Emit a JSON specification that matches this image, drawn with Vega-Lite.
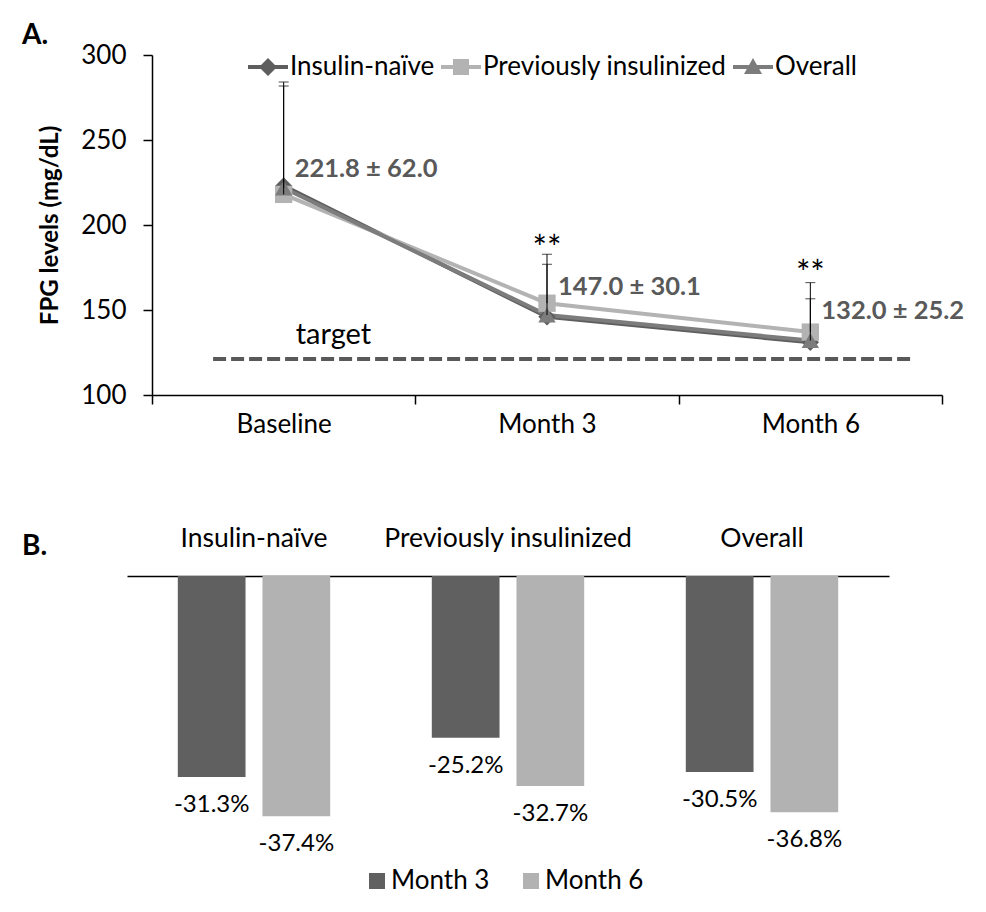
{
  "$schema": "https://vega.github.io/schema/vega-lite/v6.json",
  "background": "white",
  "padding": {"left": 22, "top": 22, "right": 0, "bottom": 0},
  "config": {
    "font": "Lato",
    "view": {"stroke": null},
    "axis": {"domainColor": "black", "tickColor": "black", "labelColor": "black", "titleColor": "black", "grid": false, "labelLimit": 0}
  },
  "datasets": {
    "fpg": [
      {"series": "Insulin-naïve", "time": "Baseline", "value": 223},
      {"series": "Insulin-naïve", "time": "Month 3", "value": 146},
      {"series": "Insulin-naïve", "time": "Month 6", "value": 131},
      {"series": "Previously insulinized", "time": "Baseline", "value": 218},
      {"series": "Previously insulinized", "time": "Month 3", "value": 154},
      {"series": "Previously insulinized", "time": "Month 6", "value": 137},
      {"series": "Overall", "time": "Baseline", "value": 221.8},
      {"series": "Overall", "time": "Month 3", "value": 147.0},
      {"series": "Overall", "time": "Month 6", "value": 132.0}
    ],
    "err": [
      {"series": "Previously insulinized", "time": "Baseline", "lo": 218, "hi": 284.1},
      {"series": "Overall", "time": "Baseline", "lo": 221.8, "hi": 281.8},
      {"series": "Previously insulinized", "time": "Month 3", "lo": 154, "hi": 182.8},
      {"series": "Overall", "time": "Month 3", "lo": 147.0, "hi": 176.9},
      {"series": "Previously insulinized", "time": "Month 6", "lo": 137, "hi": 166.1},
      {"series": "Overall", "time": "Month 6", "lo": 132.0, "hi": 156.6}
    ],
    "lab": [
      {"time": "Baseline", "y": 228.5, "text": "221.8 ± 62.0"},
      {"time": "Month 3", "y": 158.8, "text": "147.0 ± 30.1"},
      {"time": "Month 6", "y": 144.7, "text": "132.0 ± 25.2"}
    ],
    "ast": [
      {"time": "Month 3", "y": 179.4, "text": "**"},
      {"time": "Month 6", "y": 164.7, "text": "**"}
    ],
    "target": [
      {"x1": 0.232, "x2": 2.879, "y": 121.2, "tx": 0.689, "ty": 130, "label": "target"}
    ],
    "bars": [
      {"group": "Insulin-naïve", "period": "Month 3", "value": -31.3, "label": "-31.3%"},
      {"group": "Insulin-naïve", "period": "Month 6", "value": -37.4, "label": "-37.4%"},
      {"group": "Previously insulinized", "period": "Month 3", "value": -25.2, "label": "-25.2%"},
      {"group": "Previously insulinized", "period": "Month 6", "value": -32.7, "label": "-32.7%"},
      {"group": "Overall", "period": "Month 3", "value": -30.5, "label": "-30.5%"},
      {"group": "Overall", "period": "Month 6", "value": -36.8, "label": "-36.8%"}
    ]
  },
  "spacing": 88,
  "resolve": {
    "scale": {"color": "independent", "shape": "independent", "fill": "independent"},
    "legend": {"color": "independent", "shape": "independent", "fill": "independent"}
  },
  "vconcat": [
    {
      "width": 790,
      "height": 340,
      "title": {"text": "A.", "anchor": "start", "frame": "group", "dx": -130, "fontSize": 28, "fontWeight": "bold", "color": "black", "offset": -8},
      "layer": [
        {
          "layer": [
            {
              "data": {"name": "fpg"},
              "mark": {"type": "line", "strokeWidth": 4},
              "encoding": {
                "x": {"field": "time", "type": "nominal", "title": null, "scale": {"domain": ["Baseline", "Month 3", "Month 6"], "paddingInner": 0, "paddingOuter": 0},
                  "axis": {"tickBand": "extent", "tickSize": 9, "labelPadding": 7, "labelFontSize": 26, "labelAngle": 0, "domainWidth": 1.5, "tickWidth": 1.5}},
                "y": {"field": "value", "type": "quantitative", "title": "FPG levels (mg/dL)", "scale": {"domain": [100, 300], "nice": false},
                  "axis": {"values": [100, 150, 200, 250, 300], "tickSize": 9, "labelPadding": 17, "labelFontSize": 26, "titleFontSize": 24, "titleFontWeight": "bold", "titlePadding": 18, "domainWidth": 1.5, "tickWidth": 1.5}},
                "color": {"field": "series", "type": "nominal", "scale": {"domain": ["Insulin-naïve", "Previously insulinized", "Overall"], "range": ["#5e5e5e", "#b3b3b3", "#7c7c7c"]}, "legend": null}
              }
            },
            {
              "data": {"name": "fpg"},
              "mark": {"type": "point", "filled": true, "size": 300, "opacity": 1},
              "encoding": {
                "x": {"field": "time", "type": "nominal", "title": null},
                "y": {"field": "value", "type": "quantitative", "title": "FPG levels (mg/dL)"},
                "color": {"field": "series", "type": "nominal", "legend": null},
                "shape": {"field": "series", "type": "nominal", "scale": {"domain": ["Insulin-naïve", "Previously insulinized", "Overall"], "range": ["diamond", "square", "triangle-up"]}, "legend": null}
              }
            },
            {
              "data": {"name": "err"},
              "mark": {"type": "rule", "color": "black", "strokeWidth": 1},
              "encoding": {
                "x": {"field": "time", "type": "nominal", "title": null},
                "y": {"field": "lo", "type": "quantitative", "title": "FPG levels (mg/dL)"},
                "y2": {"field": "hi"}
              }
            },
            {
              "data": {"name": "err"},
              "mark": {"type": "tick", "color": "black", "thickness": 1, "size": 10},
              "encoding": {
                "x": {"field": "time", "type": "nominal", "title": null},
                "y": {"field": "hi", "type": "quantitative", "title": "FPG levels (mg/dL)"}
              }
            },
            {
              "data": {"name": "lab"},
              "mark": {"type": "text", "align": "left", "baseline": "alphabetic", "dx": 11, "fontSize": 25.5, "fontWeight": "bold", "fill": "#595959"},
              "encoding": {
                "x": {"field": "time", "type": "nominal", "title": null},
                "y": {"field": "y", "type": "quantitative", "title": "FPG levels (mg/dL)"},
                "text": {"field": "text"}
              }
            },
            {
              "data": {"name": "ast"},
              "mark": {"type": "text", "align": "center", "baseline": "alphabetic", "fontSize": 34, "fill": "black"},
              "encoding": {
                "x": {"field": "time", "type": "nominal", "title": null},
                "y": {"field": "y", "type": "quantitative", "title": "FPG levels (mg/dL)"},
                "text": {"field": "text"}
              }
            },
            {
              "data": {"name": "fpg"},
              "transform": [{"filter": "false"}],
              "mark": {"type": "point", "filled": true, "opacity": 1, "strokeWidth": 0},
              "encoding": {
                "shape": {"field": "series", "type": "nominal",
                  "scale": {"domain": ["Insulin-naïve", "Previously insulinized", "Overall"],
                    "range": ["M-1,-0.1H1V0.1H-1Z M0,-0.45L0.45,0L0,0.45L-0.45,0Z", "M-1,-0.1H1V0.1H-1Z M-0.4,-0.4H0.4V0.4H-0.4Z", "M-1,-0.1H1V0.1H-1Z M0,-0.45L0.45,0.35H-0.45Z"]},
                  "legend": {"orient": "none", "legendX": 96, "legendY": -8, "direction": "horizontal", "title": null, "labelFontSize": 26, "labelColor": "black", "labelLimit": 0, "symbolSize": 1600, "columnPadding": 6, "labelOffset": 2, "symbolStrokeWidth": 0}},
                "fill": {"field": "series", "type": "nominal",
                  "scale": {"domain": ["Insulin-naïve", "Previously insulinized", "Overall"], "range": ["#5e5e5e", "#b3b3b3", "#7c7c7c"]},
                  "legend": {"orient": "none", "legendX": 96, "legendY": -8, "direction": "horizontal", "title": null, "labelFontSize": 26, "labelColor": "black", "labelLimit": 0, "symbolSize": 1600, "columnPadding": 6, "labelOffset": 2, "symbolStrokeWidth": 0}}
              }
            }
          ],
          "resolve": {"scale": {"shape": "independent", "fill": "independent"}}
        },
        {
          "data": {"name": "target"},
          "layer": [
            {
              "mark": {"type": "rule", "strokeDash": [13, 5], "strokeWidth": 4, "color": "#595959"},
              "encoding": {
                "x": {"field": "x1", "type": "quantitative", "scale": {"domain": [0, 3], "nice": false, "zero": false}, "axis": null},
                "x2": {"field": "x2"},
                "y": {"field": "y", "type": "quantitative", "title": "FPG levels (mg/dL)"}
              }
            },
            {
              "mark": {"type": "text", "align": "center", "baseline": "alphabetic", "fontSize": 29, "fill": "black"},
              "encoding": {
                "x": {"field": "tx", "type": "quantitative", "axis": null},
                "y": {"field": "ty", "type": "quantitative", "title": "FPG levels (mg/dL)"},
                "text": {"field": "label"}
              }
            }
          ]
        }
      ],
      "resolve": {"scale": {"x": "independent"}}
    },
    {
      "width": 737,
      "height": 289,
      "data": {"name": "bars"},
      "title": {"text": "B.", "anchor": "start", "frame": "group", "dx": -130, "fontSize": 28, "fontWeight": "bold", "color": "black", "offset": -36},
      "encoding": {
        "x": {"field": "group", "type": "nominal", "sort": ["Insulin-naïve", "Previously insulinized", "Overall"], "title": null,
          "scale": {"range": [-25, 737], "paddingInner": 0.4, "paddingOuter": 0.2},
          "axis": {"orient": "top", "ticks": false, "labelAngle": 0, "labelFontSize": 26.5, "labelPadding": 24, "domainWidth": 1.5}},
        "xOffset": {"field": "period", "type": "nominal", "sort": ["Month 3", "Month 6"], "scale": {"paddingInner": 0.2, "paddingOuter": 0}},
        "y": {"field": "value", "type": "quantitative", "scale": {"domain": [-45, 0], "nice": false}, "axis": null}
      },
      "layer": [
        {
          "mark": {"type": "bar"},
          "encoding": {
            "color": {"field": "period", "type": "nominal", "scale": {"domain": ["Month 3", "Month 6"], "range": ["#606060", "#b2b2b2"]},
              "legend": {"orient": "none", "legendX": 212, "legendY": 292, "direction": "horizontal", "title": null, "symbolType": "square", "symbolSize": 256, "symbolStrokeWidth": 0, "labelFontSize": 26, "labelColor": "black", "columnPadding": 28, "labelOffset": 1}}
          }
        },
        {
          "mark": {"type": "text", "baseline": "middle", "dy": 28, "fontSize": 24, "fill": "black"},
          "encoding": {"text": {"field": "label"}}
        }
      ]
    }
  ]
}
